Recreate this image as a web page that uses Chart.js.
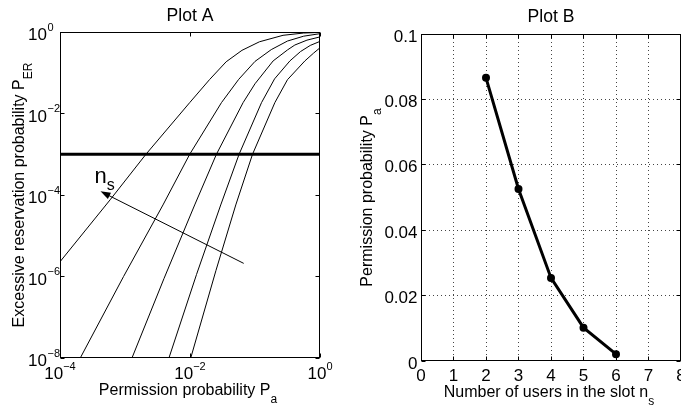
<!DOCTYPE html>
<html lang="en">
<head>
<meta charset="UTF-8">
<title>Plot A / Plot B</title>
<script src="https://cdn.jsdelivr.net/npm/chart.js"></script>
<style>
    html, body { margin: 0; padding: 0; background: #fff; overflow: hidden; width: 681px; height: 408px; }
    canvas { position: absolute; top: 0; }
    #plotA { left: 0; }
    #plotB { left: 340px; }
</style>
</head>
<body>
<canvas id="plotA" width="340" height="408"></canvas>
<canvas id="plotB" width="360" height="408"></canvas>
<script>
    // ---- Plot A: excessive reservation probability vs permission probability ----
    // one curve per n_s, leftmost curve is n_s = 6
    const paN6 = [1e-4, 5.9e-4, 2.1e-3, 9.9e-3, 0.020, 0.036, 0.063, 0.117, 0.27, 0.56, 1];
    const perN6 = [2.3e-6, 7.6e-5, 1.0e-3, 0.0185, 0.068, 0.186, 0.355, 0.575, 0.83, 0.944, 0.977];

    const paN5 = [2.05e-4, 9.5e-4, 3.84e-3, 9.9e-3, 0.0305, 0.0562, 0.1, 0.178, 0.316, 0.562, 1];
    const perN5 = [1e-8, 1e-6, 5.7e-5, 1.0e-3, 0.0185, 0.069, 0.19, 0.37, 0.60, 0.79, 0.91];

    const paN4 = [1.28e-3, 3.98e-3, 0.0118, 0.0255, 0.0656, 0.1, 0.19, 0.316, 0.41, 0.63, 1];
    const perN4 = [1e-8, 8.9e-7, 5.7e-5, 1.0e-3, 0.0185, 0.0537, 0.195, 0.363, 0.479, 0.631, 0.759];

    const paN3 = [4.74e-3, 0.0126, 0.0297, 0.0569, 0.126, 0.2, 0.344, 0.501, 0.708, 1];
    const perN3 = [1e-8, 1.12e-6, 5.7e-5, 1.0e-3, 0.0185, 0.0708, 0.195, 0.331, 0.468, 0.589];

    const paN2 = [0.01026, 0.0251, 0.0506, 0.0916, 0.202, 0.316, 0.585, 0.794, 1];
    const perN2 = [1e-8, 1.41e-6, 5.7e-5, 1.0e-3, 0.0185, 0.0676, 0.195, 0.302, 0.41];

    const perLimit = 1e-3;
    const xTicksA = [1e-4, 1e-2, 1];
    const xExpA = ['\u22124', '\u22122', '0'];
    const yTicksA = [1, 1e-2, 1e-4, 1e-6, 1e-8];
    const yExpA = ['0', '\u22122', '\u22124', '\u22126', '\u22128'];
    const arrowTail = [0.067, 2.1e-6];
    const arrowHead = [4.2e-4, 1.23e-4];
    const nsLabelAt = [3.4e-4, 2.0e-4];

    // ---- Plot B: permission probability vs users in slot ----
    const nsUsers = [2, 3, 4, 5, 6];
    const paAllowed = [0.0866, 0.0526, 0.0254, 0.0102, 0.0021];
    const xTicksB = [0, 1, 2, 3, 4, 5, 6, 7, 8];
    const yTicksB = [0, 0.02, 0.04, 0.06, 0.08, 0.1];
    const yLabelsB = ['0', '0.02', '0.04', '0.06', '0.08', '0.1'];

    const FONT = '"Liberation Sans", Arial, Helvetica, sans-serif';

    // draw a row of text pieces (size, vertical shift) on one baseline
    function runs(ctx, parts, x, y, align) {
        let w = 0;
        const widths = parts.map(p => {
            ctx.font = p[1] + 'px ' + FONT;
            const pw = ctx.measureText(p[0]).width;
            w += pw;
            return pw;
        });
        let cx = align === 'center' ? x - w / 2 : align === 'right' ? x - w : x;
        ctx.textAlign = 'left';
        ctx.textBaseline = 'alphabetic';
        ctx.fillStyle = '#000';
        parts.forEach((p, i) => {
            ctx.font = p[1] + 'px ' + FONT;
            ctx.fillText(p[0], cx, y + p[2]);
            cx += widths[i];
        });
    }

    function snap(v) {
        return Math.round(v - 0.5) + 0.5;
    }

    function frame(ctx, a, tickLen, xs, ys) {
        ctx.strokeStyle = '#000';
        ctx.lineWidth = 1;
        const l = snap(a.left), r = snap(a.right - 1), t = snap(a.top), b = snap(a.bottom - 1);
        ctx.strokeRect(l, t, r - l, b - t);
        ctx.beginPath();
        xs.forEach(px => {
            px = snap(px);
            ctx.moveTo(px, b); ctx.lineTo(px, b - tickLen);
            ctx.moveTo(px, t); ctx.lineTo(px, t + tickLen);
        });
        ys.forEach(py => {
            py = snap(py);
            ctx.moveTo(l, py); ctx.lineTo(l + tickLen, py);
            ctx.moveTo(r, py); ctx.lineTo(r - tickLen, py);
        });
        ctx.stroke();
    }

    function toPoints(xs, ys) {
        return xs.map((v, i) => ({ x: v, y: ys[i] }));
    }

    const axesA = {
        id: 'axesA',
        afterDraw(chart) {
            const { ctx, chartArea: a, scales: { x, y } } = chart;
            ctx.save();

            // n_s arrow
            const x0 = x.getPixelForValue(arrowTail[0]), y0 = y.getPixelForValue(arrowTail[1]);
            const x1 = x.getPixelForValue(arrowHead[0]), y1 = y.getPixelForValue(arrowHead[1]);
            const ang = Math.atan2(y1 - y0, x1 - x0);
            ctx.strokeStyle = '#000';
            ctx.lineWidth = 1;
            ctx.beginPath();
            ctx.moveTo(x0, y0);
            ctx.lineTo(x1 - 6 * Math.cos(ang), y1 - 6 * Math.sin(ang));
            ctx.stroke();
            ctx.fillStyle = '#000';
            ctx.beginPath();
            ctx.moveTo(x1, y1);
            ctx.lineTo(x1 - 10 * Math.cos(ang) + 3.5 * Math.sin(ang), y1 - 10 * Math.sin(ang) - 3.5 * Math.cos(ang));
            ctx.lineTo(x1 - 10 * Math.cos(ang) - 3.5 * Math.sin(ang), y1 - 10 * Math.sin(ang) + 3.5 * Math.cos(ang));
            ctx.closePath();
            ctx.fill();
            runs(ctx, [['n', 22, 0], ['s', 16, 7]], x.getPixelForValue(nsLabelAt[0]), y.getPixelForValue(nsLabelAt[1]), 'left');

            frame(ctx, a, 4, xTicksA.map(v => x.getPixelForValue(v)), yTicksA.map(v => y.getPixelForValue(v)));

            // tick labels
            xTicksA.forEach((v, i) => {
                runs(ctx, [['10', 17, 0], [xExpA[i], 11, -9]], x.getPixelForValue(v), 378.5, 'center');
            });
            yTicksA.forEach((v, i) => {
                const py = y.getPixelForValue(v);
                runs(ctx, [['10', 17, 0]], 47, py + 8, 'right');
                runs(ctx, [[yExpA[i], 11, 0]], 47.5, py - 1.5, 'left');
            });

            // titles
            const cx = (a.left + a.right) / 2;
            runs(ctx, [['Plot A', 17.6, 0]], cx, 21, 'center');
            runs(ctx, [['Permission probability P', 16, 0], ['a', 12, 8.5]], cx - 2, 394.5, 'center');
            ctx.translate(23.5, (a.top + a.bottom) / 2);
            ctx.rotate(-Math.PI / 2);
            runs(ctx, [['Excessive reservation probability P', 16, 0], ['ER', 12, 8.5]], 0, 0, 'center');
            ctx.restore();
        }
    };

    const axesB = {
        id: 'axesB',
        beforeDatasetsDraw(chart) {
            const { ctx, chartArea: a, scales: { x, y } } = chart;
            ctx.save();
            ctx.strokeStyle = '#444';
            ctx.lineWidth = 1;
            ctx.setLineDash([1, 3]);
            ctx.beginPath();
            xTicksB.slice(1, -1).forEach(v => {
                const px = snap(x.getPixelForValue(v));
                ctx.moveTo(px, a.top); ctx.lineTo(px, a.bottom);
            });
            yTicksB.slice(1, -1).forEach(v => {
                const py = snap(y.getPixelForValue(v));
                ctx.moveTo(a.left, py); ctx.lineTo(a.right, py);
            });
            ctx.stroke();
            ctx.restore();
        },
        afterDraw(chart) {
            const { ctx, chartArea: a, scales: { x, y } } = chart;
            ctx.save();
            frame(ctx, a, 4, xTicksB.map(v => x.getPixelForValue(v)), yTicksB.map(v => y.getPixelForValue(v)));

            xTicksB.forEach(v => {
                runs(ctx, [[String(v), 17, 0]], x.getPixelForValue(v), 380.5, 'center');
            });
            yTicksB.forEach((v, i) => {
                runs(ctx, [[yLabelsB[i], 17, 0]], a.left - 3.5, y.getPixelForValue(v) + 7.5, 'right');
            });

            const cx = (a.left + a.right) / 2;
            runs(ctx, [['Plot B', 17.6, 0]], cx, 21.5, 'center');
            runs(ctx, [['Number of users in the slot n', 16, 0], ['s', 12, 8.5]], cx - 2, 396.5, 'center');
            ctx.translate(32, (a.top + a.bottom) / 2);
            ctx.rotate(-Math.PI / 2);
            runs(ctx, [['Permission probability P', 16, 0], ['a', 12, 8.5]], 0, 0, 'center');
            ctx.restore();
        }
    };

    const thinLine = { borderColor: '#000', borderWidth: 1, pointRadius: 0, tension: 0, fill: false };

    new Chart(document.getElementById('plotA'), {
        type: 'line',
        data: {
            datasets: [
                { ...thinLine, data: toPoints(paN6, perN6) },
                { ...thinLine, data: toPoints(paN5, perN5) },
                { ...thinLine, data: toPoints(paN4, perN4) },
                { ...thinLine, data: toPoints(paN3, perN3) },
                { ...thinLine, data: toPoints(paN2, perN2) },
                { ...thinLine, borderWidth: 3, data: [{ x: xTicksA[0], y: perLimit }, { x: xTicksA[2], y: perLimit }] }
            ]
        },
        options: {
            responsive: false,
            animation: false,
            devicePixelRatio: 1,
            layout: { padding: { left: 60, right: 20, top: 32, bottom: 50 } },
            plugins: { legend: { display: false }, tooltip: { enabled: false } },
            scales: {
                x: { type: 'logarithmic', min: 1e-4, max: 1, display: false },
                y: { type: 'logarithmic', min: 1e-8, max: 1, display: false }
            }
        },
        plugins: [axesA]
    });

    new Chart(document.getElementById('plotB'), {
        type: 'line',
        data: {
            datasets: [{
                data: toPoints(nsUsers, paAllowed),
                borderColor: '#000',
                borderWidth: 3,
                pointRadius: 2.5,
                pointBackgroundColor: '#000',
                pointBorderColor: '#000',
                tension: 0,
                fill: false
            }]
        },
        options: {
            responsive: false,
            animation: false,
            devicePixelRatio: 1,
            layout: { padding: { left: 81, right: 19, top: 34, bottom: 47 } },
            plugins: { legend: { display: false }, tooltip: { enabled: false } },
            scales: {
                x: { type: 'linear', min: 0, max: 8, display: false },
                y: { type: 'linear', min: 0, max: 0.1, display: false }
            }
        },
        plugins: [axesB]
    });
</script>
</body>
</html>
